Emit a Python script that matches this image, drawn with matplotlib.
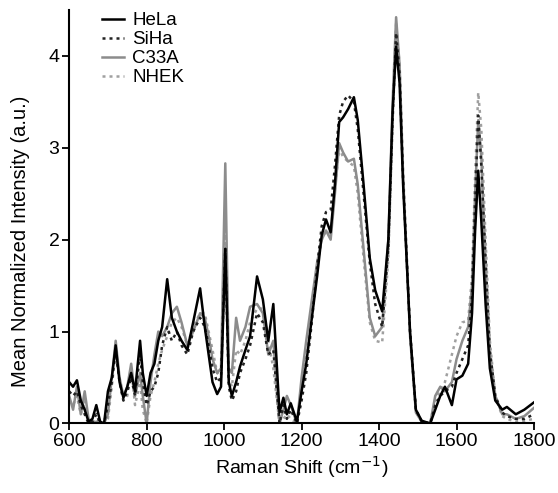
import matplotlib
matplotlib.use('Agg')
import matplotlib.pyplot as plt

plt.rcParams['font.family'] = ['Liberation Sans', 'DejaVu Sans']

# Raman shift grid (cm-1)
shift = [600, 610, 620, 630, 640, 650, 660, 670, 680, 690, 700, 710, 720, 730, 740,
         750, 760, 770, 783, 790, 800, 810, 820, 830, 840, 853, 865, 878, 890, 905,
         920, 938, 950, 960, 970, 982, 992, 1003, 1012, 1020, 1031, 1041, 1055, 1067,
         1085, 1100, 1114, 1127, 1143, 1153, 1162, 1172, 1188, 1200, 1212, 1225, 1240,
         1252, 1263, 1275, 1286, 1297, 1307, 1320, 1335, 1345, 1360, 1376, 1390, 1408,
         1424, 1435, 1444, 1453, 1462, 1480, 1495, 1510, 1532, 1545, 1558, 1570, 1588,
         1600, 1615, 1630, 1640, 1648, 1656, 1664, 1675, 1686, 1700, 1718, 1730, 1753,
         1775, 1800]

hela = [0.45, 0.40, 0.47, 0.25, 0.15, 0.02, 0.05, 0.20, 0.02, 0.0, 0.35, 0.5, 0.85, 0.45, 0.28,
        0.40, 0.55, 0.35, 0.90, 0.55, 0.30, 0.55, 0.65, 0.90, 1.05, 1.57, 1.15, 1.0, 0.9, 0.8,
        1.1, 1.47, 1.05, 0.75, 0.45, 0.32, 0.40, 1.9, 0.45, 0.30, 0.45, 0.62, 0.80, 0.95,
        1.60, 1.35, 0.90, 1.30, 0.12, 0.28, 0.10, 0.22, 0.02, 0.35, 0.65, 1.1, 1.6,
        2.05, 2.22, 2.08, 2.6, 3.28, 3.33, 3.42, 3.55, 3.3, 2.6, 1.8, 1.45, 1.22,
        2.0, 3.4, 4.1, 3.7, 2.6, 1.0, 0.15, 0.03, 0.0, 0.15, 0.30, 0.40, 0.20,
        0.48, 0.52, 0.65, 1.2, 2.1, 2.75, 2.2, 1.3, 0.6, 0.25, 0.15, 0.18, 0.10,
        0.15, 0.23]

siha = [0.35, 0.3, 0.35, 0.2, 0.1, 0.0, 0.02, 0.1, 0.0, 0.0, 0.2, 0.45, 0.8, 0.45, 0.25,
        0.35, 0.5, 0.3, 0.75, 0.45, 0.2, 0.35, 0.4, 0.55, 0.85, 1.05, 0.9, 1.0, 0.85, 0.75,
        1.0, 1.15, 1.05, 0.85, 0.6, 0.45, 0.5, 1.9, 0.4, 0.25, 0.35, 0.55, 0.7, 0.85,
        1.2, 1.1, 0.75, 0.8, 0.0, 0.2, 0.05, 0.15, 0.0, 0.25, 0.55, 1.05, 1.7,
        2.15, 2.3, 2.32, 2.8, 3.35, 3.5, 3.57, 3.5, 3.2, 2.5, 1.75, 1.3, 1.05,
        1.9, 3.3, 4.25, 3.8, 2.65, 1.0, 0.15, 0.02, 0.0, 0.2, 0.3, 0.35, 0.4,
        0.55, 0.7, 0.85, 1.4, 2.4, 3.35, 2.8, 1.8, 0.8, 0.3, 0.12, 0.08, 0.05,
        0.05, 0.1]

c33a = [0.3, 0.15, 0.4, 0.1, 0.35, 0.05, 0.0, 0.02, 0.0, 0.0, 0.1, 0.5, 0.9, 0.5, 0.3,
        0.4, 0.65, 0.3, 0.55, 0.3, 0.0, 0.45, 0.75, 1.0, 0.95, 1.05, 1.2, 1.27, 1.1, 0.85,
        1.0, 1.2, 1.15, 0.95, 0.7, 0.55, 0.6, 2.83, 0.6, 0.55, 1.15, 0.9, 1.05, 1.27,
        1.3, 1.2, 0.75, 0.9, 0.0, 0.15, 0.3, 0.2, 0.0, 0.5, 0.9, 1.3, 1.75,
        2.0, 2.1, 2.0, 2.5, 3.05, 2.95, 2.85, 2.88, 2.6, 1.9, 1.15, 0.95, 1.05,
        2.0, 3.5, 4.42, 3.9, 2.7, 0.95, 0.12, 0.02, 0.0, 0.3, 0.4, 0.35, 0.45,
        0.7, 0.9, 1.05, 1.5, 2.5, 3.3, 2.9, 1.6, 0.75, 0.3, 0.1, 0.1, 0.05,
        0.08, 0.17]

nhek = [0.25, 0.2, 0.3, 0.1, 0.25, 0.0, 0.0, 0.05, 0.0, 0.0, 0.05, 0.4, 0.8, 0.45, 0.25,
        0.3, 0.6, 0.2, 0.45, 0.15, 0.0, 0.3, 0.45, 0.65, 0.8, 0.95, 1.1, 1.15, 1.05, 0.85,
        1.05, 1.2, 1.2, 1.0, 0.8, 0.55, 0.5, 2.1, 0.5, 0.4, 0.8, 0.75, 0.9, 1.1,
        1.25, 1.25, 0.9, 0.6, 0.0, 0.05, 0.1, 0.05, 0.0, 0.4, 0.8, 1.2, 1.7,
        2.0, 2.1, 2.05, 2.55, 3.0, 2.9, 2.85, 2.8, 2.5, 1.8, 1.1, 0.9, 0.88,
        1.8, 3.3, 4.35, 3.9, 2.75, 1.0, 0.15, 0.02, 0.0, 0.25, 0.35, 0.45, 0.75,
        0.95, 1.1, 1.12, 1.6, 2.7, 3.6, 3.2, 2.0, 0.9, 0.3, 0.08, 0.05, 0.02,
        0.03, 0.05]

GRAY = '#8c8c8c'

fig = plt.figure(figsize=(5.58, 4.93), dpi=100)
ax = fig.add_axes([0.124, 0.141, 0.833, 0.839])

ax.plot(shift, nhek, color='#a0a0a0', linestyle=(0, (1.2, 1.6)), linewidth=1.8, label='NHEK')
ax.plot(shift, c33a, color=GRAY, linestyle='-', linewidth=1.8, label='C33A')
ax.plot(shift, siha, color='#222222', linestyle=(0, (1.2, 1.6)), linewidth=1.8, label='SiHa')
ax.plot(shift, hela, color='black', linestyle='-', linewidth=1.8, label='HeLa')

ax.set_xlim(600, 1800)
ax.set_ylim(0, 4.5)
ax.set_xticks(range(600, 1801, 200))
ax.set_yticks([0, 1, 2, 3, 4])
ax.spines['top'].set_visible(False)
ax.spines['right'].set_visible(False)
ax.spines['left'].set_linewidth(1.5)
ax.spines['bottom'].set_linewidth(1.5)
ax.tick_params(direction='out', length=5, width=1.3, labelsize=14, pad=2)

ax.set_xlabel('Raman Shift (cm$^{-1}$)', fontsize=14, labelpad=3)
ax.set_ylabel('Mean Normalized Intensity (a.u.)', fontsize=14.5)
ax.yaxis.set_label_coords(-0.085, 0.44)

handles, labels = ax.get_legend_handles_labels()
order = [3, 2, 1, 0]
leg = ax.legend([handles[i] for i in order], [labels[i] for i in order],
                loc='upper left', bbox_to_anchor=(0.035, 1.035), frameon=False,
                fontsize=13.5, handlelength=1.15, handletextpad=0.45, labelspacing=0.1)

fig.savefig('out.png', dpi=100)
